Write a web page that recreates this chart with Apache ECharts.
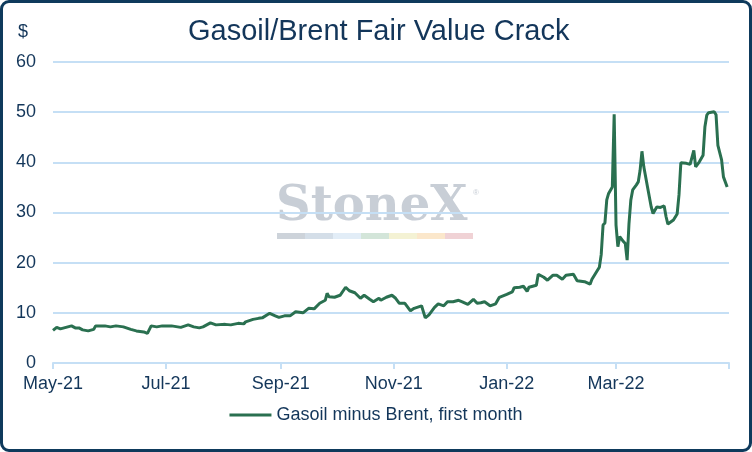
<!DOCTYPE html>
<html>
<head>
<meta charset="utf-8">
<title>Gasoil/Brent Fair Value Crack</title>
<script src="https://cdn.jsdelivr.net/npm/echarts@6/dist/echarts.min.js"></script>
<style>
  html, body { margin: 0; padding: 0; background: #fff; }
  #wrap { position: relative; width: 752px; height: 452px; }
  #chart { position: absolute; left: 0; top: 0; width: 752px; height: 452px; }
  #frame { position: absolute; left: 0; top: 0; width: 752px; height: 452px; box-sizing: border-box;
           border: 3px solid #0e3a5c; border-radius: 9px; pointer-events: none; }
</style>
</head>
<body>
<div id="wrap">
  <div id="chart"></div>
  <div id="frame"></div>
</div>
<script>
// Gasoil minus Brent, first month ($)
var dates = [
  '2021-05-01','2021-05-03','2021-05-05','2021-05-11','2021-05-13','2021-05-15','2021-05-17','2021-05-20','2021-05-23','2021-05-24','2021-05-29',
  '2021-06-01','2021-06-04','2021-06-08','2021-06-12','2021-06-15','2021-06-19','2021-06-21','2021-06-23','2021-06-26','2021-06-29',
  '2021-07-04','2021-07-09','2021-07-13','2021-07-16','2021-07-19','2021-07-21','2021-07-25','2021-07-28',
  '2021-08-02','2021-08-03','2021-08-05','2021-08-09','2021-08-12','2021-08-13','2021-08-17','2021-08-20','2021-08-22','2021-08-26','2021-08-29','2021-08-31',
  '2021-09-03','2021-09-06','2021-09-09','2021-09-11','2021-09-13','2021-09-16','2021-09-19','2021-09-22','2021-09-25','2021-09-26','2021-09-27','2021-09-30',
  '2021-10-03','2021-10-06','2021-10-08','2021-10-11','2021-10-14','2021-10-16','2021-10-19','2021-10-21','2021-10-24','2021-10-25','2021-10-28','2021-10-31',
  '2021-11-02','2021-11-04','2021-11-07','2021-11-08','2021-11-10','2021-11-12','2021-11-16','2021-11-17','2021-11-18','2021-11-20','2021-11-23','2021-11-25','2021-11-28','2021-11-30',
  '2021-12-03','2021-12-06','2021-12-08','2021-12-11','2021-12-14','2021-12-16','2021-12-18','2021-12-20','2021-12-23','2021-12-26','2021-12-28',
  '2022-01-01','2022-01-04','2022-01-05','2022-01-08','2022-01-10','2022-01-12','2022-01-13','2022-01-17','2022-01-18','2022-01-21','2022-01-23','2022-01-26','2022-01-28','2022-01-31',
  '2022-02-02','2022-02-06','2022-02-08','2022-02-09','2022-02-12','2022-02-15','2022-02-16','2022-02-18','2022-02-20','2022-02-21','2022-02-22','2022-02-23','2022-02-24','2022-02-25','2022-02-27','2022-02-28',
  '2022-03-01','2022-03-02','2022-03-03','2022-03-05','2022-03-06','2022-03-07','2022-03-08','2022-03-09','2022-03-10','2022-03-12','2022-03-13','2022-03-14','2022-03-15','2022-03-16','2022-03-18','2022-03-20','2022-03-21','2022-03-23','2022-03-25','2022-03-27','2022-03-28','2022-03-29',
  '2022-04-01','2022-04-03','2022-04-04','2022-04-05','2022-04-08','2022-04-10','2022-04-12','2022-04-13','2022-04-14','2022-04-15','2022-04-17','2022-04-18','2022-04-19','2022-04-20','2022-04-21','2022-04-23','2022-04-24','2022-04-25','2022-04-26','2022-04-27','2022-04-28','2022-04-30'
];
var crack = [
  6.5,7.1,6.8,7.4,7.0,7.0,6.6,6.4,6.7,7.4,7.4,
  7.2,7.4,7.2,6.7,6.4,6.2,5.9,7.4,7.2,7.4,
  7.4,7.1,7.6,7.2,7.0,7.2,8.0,7.6,
  7.7,8.0,7.6,7.9,7.8,8.2,8.7,8.9,9.0,9.9,9.4,9.1,
  9.4,9.4,10.2,10.1,10.0,10.9,10.8,11.9,12.5,13.9,13.2,13.1,
  13.5,15.1,14.4,14.0,12.9,13.5,12.7,12.2,12.9,12.5,13.1,13.5,
  12.9,11.9,11.9,12.2,10.4,10.9,11.4,11.2,9.0,9.6,11.1,11.8,11.4,12.2,
  12.2,12.5,12.2,11.7,12.7,11.9,12.0,12.2,11.4,11.8,13.1,
  13.7,14.2,15.0,15.1,15.3,14.3,15.1,15.5,17.7,17.1,16.5,17.5,17.5,16.7,
  17.5,17.7,16.4,16.7,16.2,15.7,16.7,17.9,19.1,21.6,27.5,27.9,32.5,33.8,35.1,49.6,
  27.5,23.2,25.2,24.2,23.8,20.5,27.8,32.5,34.5,35.5,36.1,38.4,42.2,39.1,35.1,31.1,29.8,31.1,31.0,31.3,29.2,27.7,
  28.5,29.7,33.5,39.9,39.8,39.6,42.4,39.1,38.8,40.1,41.4,47.1,49.4,49.9,50.1,50.1,49.5,43.4,43.4,40.5,37.1,35.1
];
var tickDates = ['2021-05-01','2021-07-01','2021-09-01','2021-11-01','2022-01-01','2022-03-01','2022-05-01'];
var tickLabels = ['May-21','Jul-21','Sep-21','Nov-21','Jan-22','Mar-22'];
var stripeColors = ['#cdd3da','#d4dee8','#e2edf7','#d3e5d9','#f4f2d4','#fbe7cb','#f0d2d5'];

var navy = '#13365a';
var labelFont = '"Liberation Sans", Arial, sans-serif';

function toTime(s){
  var p = s.split('-');
  return Date.UTC(+p[0], +p[1]-1, +p[2]);
}
var tickTimes = tickDates.map(toTime);

var myChart = echarts.init(document.getElementById('chart'));

var watermark = [
  { type:'text', left:276, top:184, z:-10, silent:true,
    style:{ text:'StoneX', font:'bold 48px "DejaVu Serif", serif', fill:'#c8ced6' } },
  { type:'text', left:473, top:189, z:-10, silent:true,
    style:{ text:'®', font:'8px "Liberation Sans", sans-serif', fill:'#c8ced6' } }
];
stripeColors.forEach(function(c, i){
  watermark.push({ type:'rect', left:277 + i*28, top:233, z:-10, silent:true,
    shape:{ width:28, height:6 }, style:{ fill:c } });
});
watermark.push({ type:'text', left:18, top:23, silent:true,
  style:{ text:'$', font:'18px ' + labelFont, fill:navy } });

var option = {
  backgroundColor:'#ffffff',
  animation:false,
  title:{
    text:'Gasoil/Brent Fair Value Crack',
    left:188, top:17, padding:0,
    textStyle:{ color:navy, fontSize:29, fontWeight:'normal', fontFamily:labelFont }
  },
  graphic:{ elements: watermark },
  legend:{
    bottom: 23, left:'center',
    icon:'rect', itemWidth:42, itemHeight:3,
    textStyle:{ color:navy, fontSize:18, fontFamily:labelFont },
    data:['Gasoil minus Brent, first month']
  },
  grid:{ left:53, right:23, top:62, bottom:89, containLabel:false },
  xAxis:{
    type:'value',
    min: tickTimes[0], max: tickTimes[tickTimes.length-1],
    axisLine:{ show:true, lineStyle:{ color:'#c5dff5', width:2 } },
    axisTick:{ show:true, customValues: tickTimes, length:6, lineStyle:{ color:'#c5dff5', width:2 } },
    splitLine:{ show:false },
    axisLabel:{
      customValues: tickTimes.slice(0, tickLabels.length),
      margin:12, color:navy, fontSize:18, fontFamily:labelFont,
      formatter:function(v){
        var i = tickTimes.indexOf(v);
        return i >= 0 && i < tickLabels.length ? tickLabels[i] : '';
      }
    }
  },
  yAxis:{
    type:'value', min:0, max:60, interval:10,
    axisLine:{ show:false }, axisTick:{ show:false },
    splitLine:{ show:true, lineStyle:{ color:'#c5dff5', width:2 } },
    axisLabel:{ margin:17, color:navy, fontSize:18, fontFamily:labelFont }
  },
  series:[{
    name:'Gasoil minus Brent, first month',
    type:'line',
    showSymbol:false,
    color:'#2a7050',
    lineStyle:{ width:3, color:'#2a7050' },
    data: dates.map(function(d, i){ return [toTime(d), crack[i]]; })
  }]
};
myChart.setOption(option);
</script>
</body>
</html>
